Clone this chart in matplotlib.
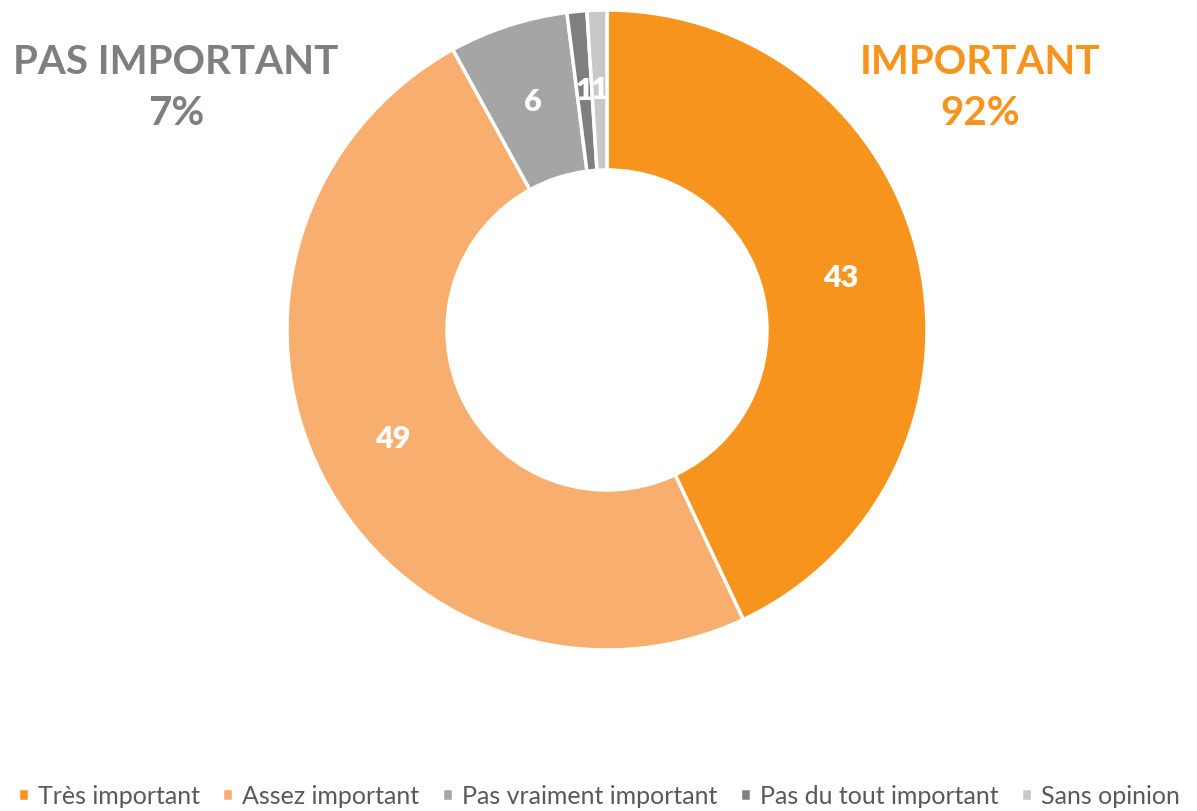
import numpy as np
import matplotlib.pyplot as plt

# data to plot
categories = ['Très important', 'Assez important', 'Pas vraiment important',
              'Pas du tout important', 'Sans opinion']
values = [43, 49, 6, 1, 1]
colors = ['#F7941D', '#F8AE6E', '#A5A5A5', '#7F7F7F', '#C8C8C8']
group_labels = ['IMPORTANT\n92%', 'PAS IMPORTANT\n7%']

plt.rcParams['font.family'] = ['Lato', 'DejaVu Sans']

fig = plt.figure(figsize=(11.97, 8.11), dpi=100)
# square axes so the donut sits where the original has it
ax = fig.add_axes([287 / 1197, 161 / 811, 640 / 1197, 640 / 811])

wedges, _ = ax.pie(values, colors=colors, startangle=90, counterclock=False,
                   radius=1, wedgeprops=dict(width=0.5, edgecolor='white', linewidth=2.5))
ax.set_xlim(-1, 1)
ax.set_ylim(-1, 1)
ax.set_aspect('equal')
ax.axis('off')

# value labels in the middle of the ring
for w, v in zip(wedges, values):
    ang = np.deg2rad((w.theta1 + w.theta2) / 2)
    r = 0.75
    ax.text(r * np.cos(ang), r * np.sin(ang), str(v), ha='center', va='center',
            color='white', fontsize=22, fontweight='heavy')

fig.text(980 / 1197, 1 - 88 / 811, group_labels[0], ha='center', va='center',
         color='#F7941D', fontsize=29, fontweight='bold', linespacing=1.45)
fig.text(176 / 1197, 1 - 88 / 811, group_labels[1], ha='center', va='center',
         color='#7F7F7F', fontsize=29, fontweight='bold', linespacing=1.45)

fig.legend(wedges, categories, loc='center', bbox_to_anchor=(0.5, 1 - 796 / 811),
           ncol=5, frameon=False, fontsize=18, handlelength=0.45, handleheight=0.45,
           handletextpad=0.35, columnspacing=0.9, labelcolor='#595959')

fig.savefig('out.png', dpi=100)
